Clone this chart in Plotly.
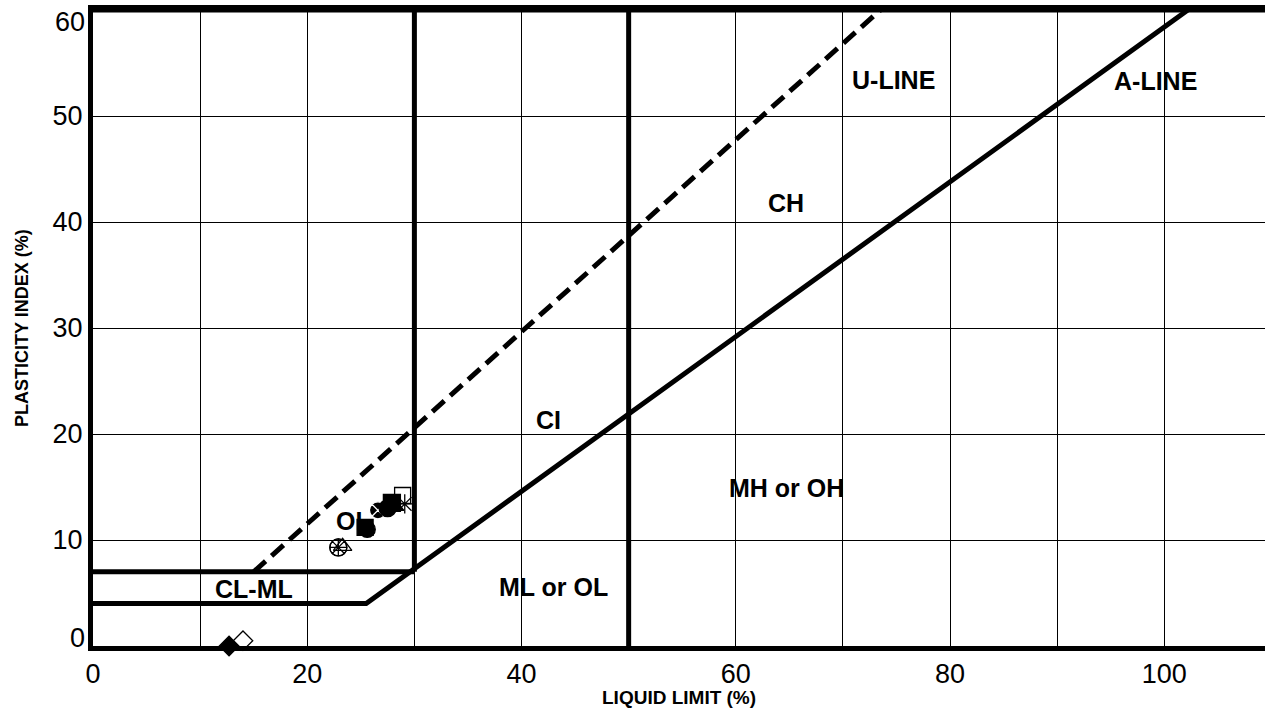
import plotly.graph_objects as go

# ---- data ----
sample_ll = [12.7, 14.0, 22.9, 23.3, 25.4, 25.6, 26.6, 27.5, 27.9, 28.1, 28.9, 29.1]
sample_pi = [0.0, 0.5, 9.3, 9.4, 11.2, 11.0, 12.8, 13.0, 13.5, 13.2, 14.2, 13.4]

a_line_ll = [0, 25.5, 102.2]
a_line_pi = [4, 4, 60]
u_line_ll = [15, 73.5]
u_line_pi = [7, 60]
clml_ll = [0, 30]
clml_pi = [7, 7]
v30_ll = [30, 30]
v30_pi = [7, 60]
v50_ll = [50, 50]
v50_pi = [0, 60]

region_text = ["U-LINE", "A-LINE", "CH", "CI", "MH or OH", "ML or OL", "CL-ML", "OL"]
region_ll = [74.7, 99.2, 64.7, 42.5, 64.7, 43.0, 15.0, 24.3]
region_pi = [53.4, 53.3, 41.8, 21.3, 14.9, 5.6, 5.4, 11.8]

x_ticks = [0, 10, 20, 30, 40, 50, 60, 70, 80, 90, 100]
x_tick_text = ["0", "", "20", "", "40", "", "60", "", "80", "", "100"]
y_ticks = [0, 10, 20, 30, 40, 50, 60]
y_tick_text = ["0", "10", "20", "30", "40", "50", "60"]

x_title = "LIQUID LIMIT (%)"
y_title = "PLASTICITY INDEX (%)"

# ---- styles ----
sample_symbols = ["diamond", "diamond-open", "circle-x-open", "triangle-up-open",
                  "square", "circle", "circle-x", "circle", "square", "triangle-up",
                  "square-open", "asterisk-open"]
sample_line_colors = ["black", "black", "black", "black", "black", "black", "white",
                      "black", "black", "black", "black", "black"]
sample_sizes = [15, 15, 17, 16, 16, 16, 17, 17, 17, 17, 16, 16]

FONT = "Liberation Sans, Arial, Helvetica, sans-serif"
W, H = 1265, 711
ML, MT, MB = 93, 10, 65
PW = W - ML
PH = H - MT - MB

fig = go.Figure()

thick = dict(color="black", width=5)
for xs, ys in [(a_line_ll, a_line_pi), (clml_ll, clml_pi), (v30_ll, v30_pi), (v50_ll, v50_pi)]:
    fig.add_trace(go.Scatter(x=xs, y=ys, mode="lines", line=thick, hoverinfo="skip",
                             showlegend=False))
fig.add_trace(go.Scatter(x=u_line_ll, y=u_line_pi, mode="lines",
                         line=dict(color="black", width=5, dash="16px,8px"),
                         hoverinfo="skip", showlegend=False))

for i in range(len(sample_ll)):
    sym = sample_symbols[i]
    fig.add_trace(go.Scatter(
        x=[sample_ll[i]], y=[sample_pi[i]], mode="markers", showlegend=False,
        cliponaxis=False,
        marker=dict(symbol=sym, size=sample_sizes[i], color="black",
                    line=dict(color=sample_line_colors[i], width=1.3))))
# extra spokes on the wheel marker
fig.add_trace(go.Scatter(x=[sample_ll[2]], y=[sample_pi[2]], mode="markers", showlegend=False,
                         marker=dict(symbol="circle-cross-open", size=sample_sizes[2],
                                     color="black", line=dict(color="black", width=1.3))))

for t, xv, yv in zip(region_text, region_ll, region_pi):
    fig.add_annotation(x=xv, y=yv, text="<b>%s</b>" % t, showarrow=False,
                       font=dict(family=FONT, size=25, color="black"))

# end tick labels of the y axis sit nudged inside the frame
fig.add_annotation(xref="paper", yref="y", x=0, y=y_ticks[-1], text=y_tick_text[-1],
                   showarrow=False, xanchor="right", yanchor="middle", xshift=-6, yshift=-12,
                   font=dict(family=FONT, size=27, color="black"))
fig.add_annotation(xref="paper", yref="y", x=0, y=y_ticks[0], text=y_tick_text[0],
                   showarrow=False, xanchor="right", yanchor="middle", xshift=-6, yshift=8,
                   font=dict(family=FONT, size=27, color="black"))

# axis titles
fig.add_annotation(xref="paper", yref="paper", x=0.5, y=-(697 - (MT + PH)) / PH,
                   text="<b>%s</b>" % x_title, showarrow=False, xanchor="center",
                   yanchor="middle", font=dict(family=FONT, size=19, color="black"))
fig.add_annotation(xref="paper", yref="paper", x=-(ML - 22) / PW, y=0.5,
                   text="<b>%s</b>" % y_title, showarrow=False, textangle=-90,
                   xanchor="center", yanchor="middle",
                   font=dict(family=FONT, size=18, color="black"))

fig.update_layout(
    width=W, height=H,
    margin=dict(l=ML, r=0, t=MT, b=MB, autoexpand=False),
    paper_bgcolor="white", plot_bgcolor="white",
    font=dict(family=FONT, color="black"),
    hovermode=False,
    xaxis=dict(range=[0, 109.4], tickmode="array", tickvals=x_ticks, ticktext=x_tick_text,
               showgrid=True, gridcolor="black", gridwidth=1, zeroline=False,
               showline=True, linecolor="black", linewidth=5, mirror=True,
               ticks="", tickfont=dict(size=27, family=FONT), automargin=False),
    yaxis=dict(range=[0, 60], tickmode="array", tickvals=y_ticks[1:-1],
               ticktext=y_tick_text[1:-1],
               showgrid=True, gridcolor="black", gridwidth=1, zeroline=False,
               showline=True, linecolor="black", linewidth=5,
               ticks="", tickfont=dict(size=27, family=FONT), automargin=False),
)
fig.add_shape(type="line", xref="paper", yref="y", x0=0, x1=1, y0=y_ticks[-1], y1=y_ticks[-1],
              line=dict(color="black", width=5), layer="above")

# remove the browser's default page margin so the figure fills the window exactly
fig.write_html("out.html", config={"displayModeBar": False},
               post_script="document.body.style.margin='0';")
